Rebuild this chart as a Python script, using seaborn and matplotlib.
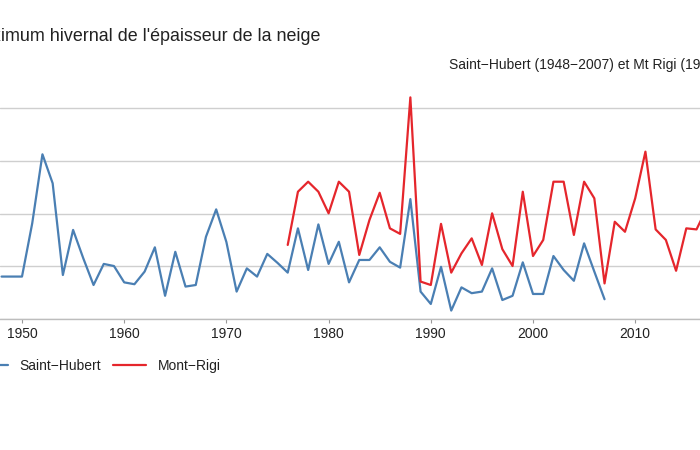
import matplotlib
matplotlib.use("Agg")
import matplotlib.pyplot as plt
import seaborn as sns
import pandas as pd

# ---- data (cm) ----
sh_years = list(range(1948, 2008))
sh_values = [16.1, 16.1, 16.1, 36.3, 62.5, 51.5, 16.7, 33.8, 23.0, 12.9,
             20.9, 20.1, 13.9, 13.2, 18.0, 27.2, 8.8, 25.5, 12.3, 12.9,
             31.2, 41.6, 29.2, 10.4, 19.2, 16.1, 24.7, 21.3, 17.6, 34.4,
             18.6, 35.9, 20.9, 29.3, 13.9, 22.4, 22.4, 27.2, 21.7, 19.5,
             45.5, 10.4, 5.7, 19.8, 3.2, 12.0, 9.8, 10.4, 19.2, 7.2,
             8.8, 21.5, 9.5, 9.5, 23.9, 18.6, 14.5, 28.7, 18.0, 7.5]
mr_years = list(range(1976, 2018))
mr_values = [28.1, 48.3, 52.1, 48.3, 40.1, 52.1, 48.3, 24.3, 37.6, 47.9,
             34.4, 32.3, 84.1, 14.2, 12.9, 36.1, 17.6, 24.9, 30.6, 20.5,
             40.1, 26.5, 20.1, 48.3, 23.9, 30.0, 52.1, 52.1, 31.9, 52.1,
             45.8, 13.5, 36.9, 33.1, 45.8, 63.5, 34.0, 30.0, 18.3, 34.4,
             34.0, 42.0]
series_names = ["Saint\u2212Hubert", "Mont\u2212Rigi"]
series_colors = ["#4a7fb3", "#e5262c"]
x_ticks = [1950, 1960, 1970, 1980, 1990, 2000, 2010]
y_grid = [0, 20, 40, 60, 80]
title = "Maximum hivernal de l'épaisseur de la neige"
subtitle = "Saint\u2212Hubert (1948\u22122007) et Mt Rigi (1976\u22122017)"

df = pd.concat([
    pd.DataFrame({"annee": sh_years, "epaisseur": sh_values, "station": series_names[0]}),
    pd.DataFrame({"annee": mr_years, "epaisseur": mr_values, "station": series_names[1]}),
], ignore_index=True)

sns.set_style("white")
plt.rcParams["font.family"] = ["Liberation Sans", "DejaVu Sans"]

W, H = 700, 450
fig = plt.figure(figsize=(7, 4.5), dpi=100)
# axes spans the full width (reference is cropped on both sides)
ax_bottom = (H - 319) / H
ax_height = (319 - 87.1) / H
ax = fig.add_axes([0, ax_bottom, 1, ax_height])

sns.lineplot(data=df, x="annee", y="epaisseur", hue="station",
             palette=dict(zip(series_names, series_colors)),
             linewidth=1.6, ax=ax, legend=True)

ax.set_xlim(1950 - 22 / 10.22, 1950 - 22 / 10.22 + 700 / 10.22)
ax.set_ylim(0, 88)
ax.set_yticks(y_grid)
ax.yaxis.grid(True, color="#cfcfcf", linewidth=1.0)
ax.xaxis.grid(False)
ax.set_axisbelow(True)
ax.tick_params(axis="y", left=False, labelleft=False)
ax.set_xticks(x_ticks)
ax.set_xticklabels([str(t) for t in x_ticks])
ax.tick_params(axis="x", bottom=True, direction="out", length=3, width=0.8,
               color="#9a9a9a", labelsize=10, labelcolor="#222222", pad=3)
for s in ["left", "right", "top"]:
    ax.spines[s].set_visible(False)
ax.spines["bottom"].set_color("#bdbdbd")
ax.spines["bottom"].set_linewidth(1.0)
ax.set_xlabel("")
ax.set_ylabel("")

handles, labels = ax.get_legend_handles_labels()
ax.legend(handles, labels, loc="center left",
          bbox_to_anchor=(-25 / W, 1 - 366 / H), bbox_transform=fig.transFigure,
          ncol=2, frameon=False, fontsize=10, handlelength=2.36,
          handletextpad=0.86, columnspacing=0.86, borderpad=0, borderaxespad=0)
for t in ax.get_legend().get_texts():
    t.set_color("#222222")

fig.text(320 / W, 1 - 41 / H, title, ha="right", va="baseline",
         fontsize=12.9, color="#222222")
fig.text(449 / W, 1 - 69 / H, subtitle, ha="left", va="baseline",
         fontsize=10, color="#222222")

fig.savefig("out.png", dpi=100)
